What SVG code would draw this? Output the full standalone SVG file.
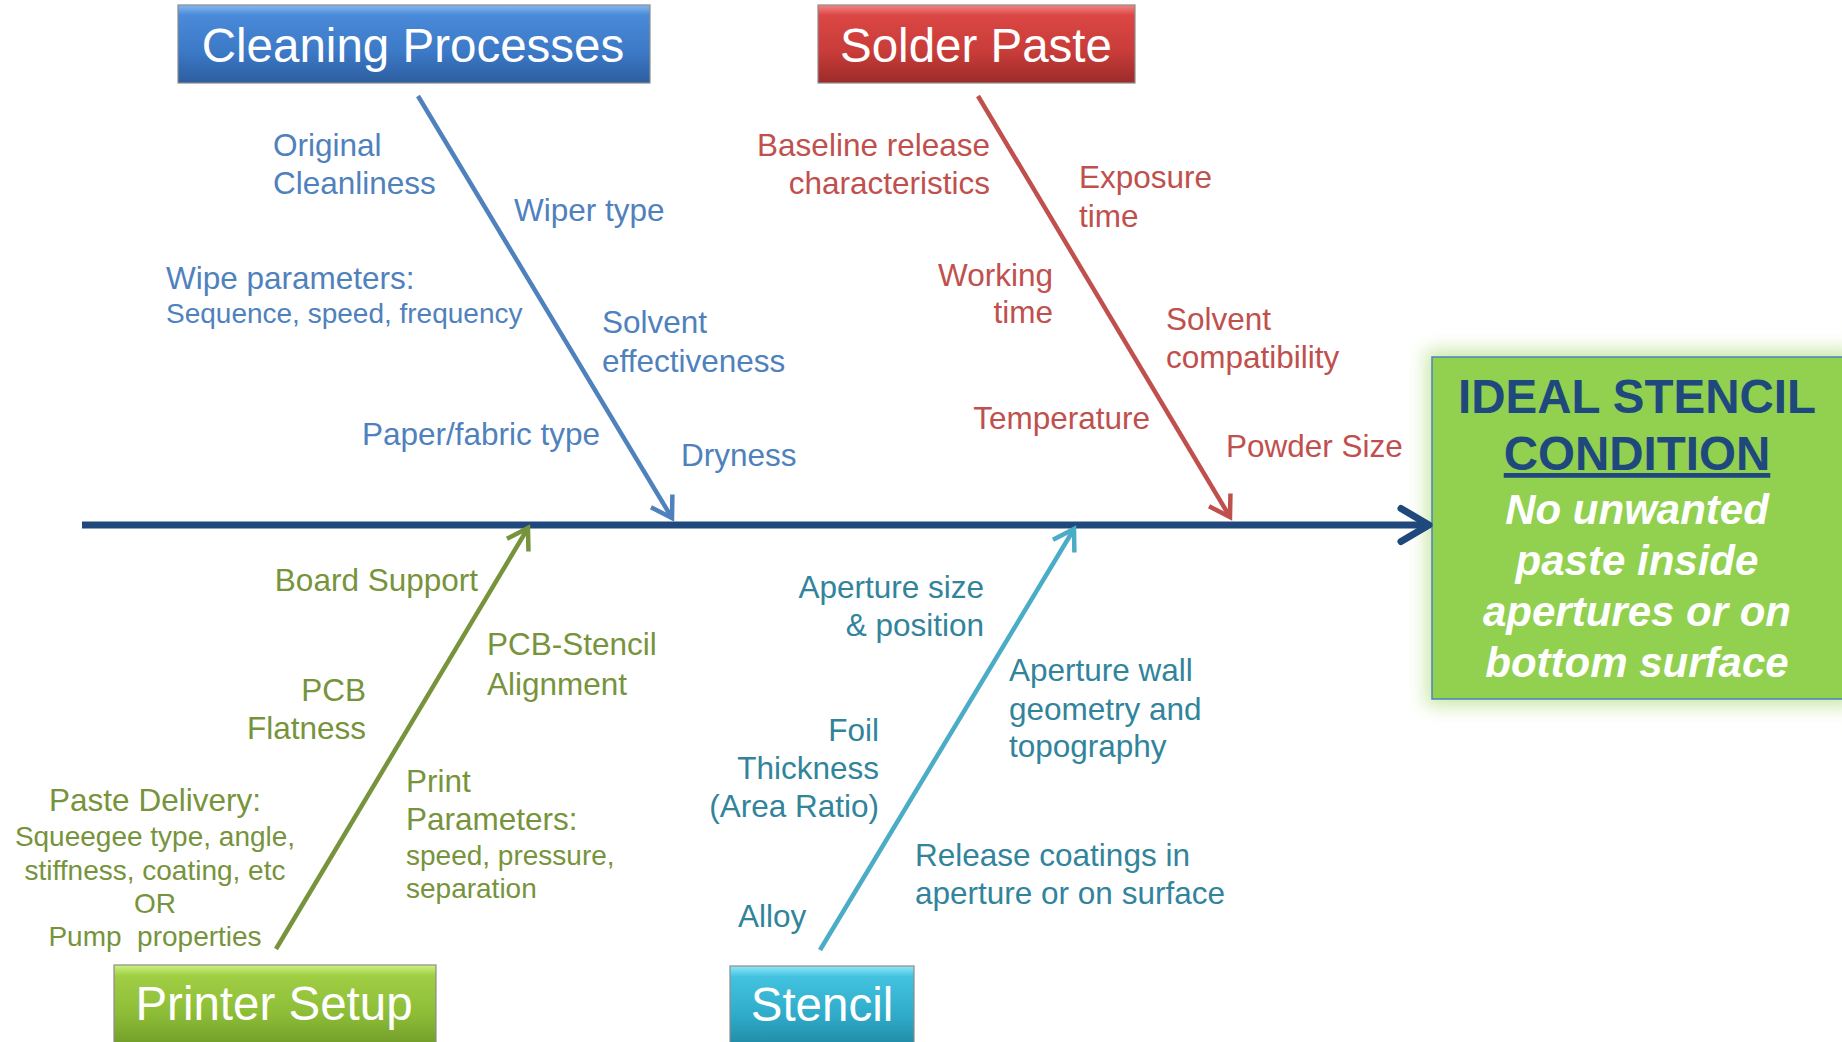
<svg xmlns="http://www.w3.org/2000/svg" width="1842" height="1042" viewBox="0 0 1842 1042">
<style>
text{font-family:"Liberation Sans",Arial,sans-serif}
.lbl{font-size:31.5px}
.sub{font-size:28px}
.r{text-anchor:end}
.m{text-anchor:middle}
.blue{fill:#4F81BD}
.red{fill:#C0504D}
.green{fill:#77933C}
.teal{fill:#31849B}
.title{font-size:47.5px;fill:#FFFFFF;text-anchor:middle}
.box{stroke:#8C8C8C;stroke-width:1.2}
.branch{fill:none;stroke-width:4.5}
.head{font-size:47.5px;font-weight:bold;fill:#1F497D;text-anchor:middle}
.eff{font-size:42px;font-weight:bold;font-style:italic;fill:#FFFFFF;text-anchor:middle}
</style>
<defs>
<linearGradient id="gBlue" x1="0" y1="0" x2="0" y2="1">
<stop offset="0" stop-color="#86B8F2"/><stop offset="0.13" stop-color="#4A8AD8"/><stop offset="0.6" stop-color="#3C79C7"/><stop offset="1" stop-color="#2D5D9F"/>
</linearGradient>
<linearGradient id="gRed" x1="0" y1="0" x2="0" y2="1">
<stop offset="0" stop-color="#F38684"/><stop offset="0.13" stop-color="#DB4744"/><stop offset="0.6" stop-color="#C83C39"/><stop offset="1" stop-color="#9C2B29"/>
</linearGradient>
<linearGradient id="gGreen" x1="0" y1="0" x2="0" y2="1">
<stop offset="0" stop-color="#CDF27F"/><stop offset="0.13" stop-color="#A0CF45"/><stop offset="0.6" stop-color="#8DBC37"/><stop offset="1" stop-color="#709C29"/>
</linearGradient>
<linearGradient id="gCyan" x1="0" y1="0" x2="0" y2="1">
<stop offset="0" stop-color="#8FE7F8"/><stop offset="0.13" stop-color="#43C3E0"/><stop offset="0.6" stop-color="#2FABC9"/><stop offset="1" stop-color="#2088A3"/>
</linearGradient>
<filter id="glow" x="-20%" y="-20%" width="140%" height="140%">
<feGaussianBlur stdDeviation="9"/>
</filter>
<marker id="mBlue" markerUnits="userSpaceOnUse" orient="auto" markerWidth="60" markerHeight="60" viewBox="-30 -30 60 60" refX="0" refY="0" overflow="visible">
<path d="M-20,-12.5 L0,0 L-20,12.5" fill="none" stroke="#4F81BD" stroke-width="4.5"/>
</marker>
<marker id="mRed" markerUnits="userSpaceOnUse" orient="auto" markerWidth="60" markerHeight="60" viewBox="-30 -30 60 60" refX="0" refY="0" overflow="visible">
<path d="M-20,-12.5 L0,0 L-20,12.5" fill="none" stroke="#C0504D" stroke-width="4.5"/>
</marker>
<marker id="mGreen" markerUnits="userSpaceOnUse" orient="auto" markerWidth="60" markerHeight="60" viewBox="-30 -30 60 60" refX="0" refY="0" overflow="visible">
<path d="M-20,-12.5 L0,0 L-20,12.5" fill="none" stroke="#77933C" stroke-width="4.5"/>
</marker>
<marker id="mCyan" markerUnits="userSpaceOnUse" orient="auto" markerWidth="60" markerHeight="60" viewBox="-30 -30 60 60" refX="0" refY="0" overflow="visible">
<path d="M-20,-12.5 L0,0 L-20,12.5" fill="none" stroke="#4BACC6" stroke-width="4.5"/>
</marker>
<marker id="mSpine" markerUnits="userSpaceOnUse" orient="auto" markerWidth="80" markerHeight="80" viewBox="-40 -40 80 80" refX="0" refY="0" overflow="visible">
<path d="M-28,-16.5 L0,0 L-28,16.5" fill="none" stroke="#1F497D" stroke-width="7" stroke-linecap="round" stroke-linejoin="round"/>
</marker>
</defs>
<rect width="1842" height="1042" fill="#FFFFFF"/>

<g id="effect">
<rect x="1426" y="350" width="430" height="356" fill="#C9E8A6" filter="url(#glow)"/>
<rect x="1432" y="357" width="416" height="342" fill="#92D050" stroke="#4F81BD" stroke-width="1.5"/>
<text class="head" x="1637" y="413">IDEAL STENCIL</text>
<text class="head" x="1637" y="470" text-decoration="underline">CONDITION</text>
<text class="eff" x="1637" y="524">No unwanted</text>
<text class="eff" x="1637" y="575">paste inside</text>
<text class="eff" x="1637" y="626">apertures or on</text>
<text class="eff" x="1637" y="677">bottom surface</text>
</g>

<g id="connectors">
<line id="spine" x1="82" y1="525" x2="1429" y2="525" stroke="#1F497D" stroke-width="7" marker-end="url(#mSpine)"/>
<line id="br-cleaning" class="branch" x1="418" y1="96" x2="672" y2="518" stroke="#4F81BD" marker-end="url(#mBlue)"/>
<line id="br-solder" class="branch" x1="978" y1="96" x2="1230" y2="517" stroke="#C0504D" marker-end="url(#mRed)"/>
<line id="br-printer" class="branch" x1="276" y1="949" x2="528" y2="528" stroke="#77933C" marker-end="url(#mGreen)"/>
<line id="br-stencil" class="branch" x1="820" y1="950" x2="1074" y2="529" stroke="#4BACC6" marker-end="url(#mCyan)"/>
</g>

<g id="cleaning">
<rect class="box" x="178" y="5" width="472" height="78" fill="url(#gBlue)"/>
<text class="title" x="413" y="62">Cleaning Processes</text>
</g>
<g id="solder">
<rect class="box" x="818" y="5" width="317" height="78" fill="url(#gRed)"/>
<text class="title" x="976" y="62">Solder Paste</text>
</g>
<g id="printer">
<rect class="box" x="114" y="965" width="322" height="82" fill="url(#gGreen)"/>
<text class="title" x="274" y="1020">Printer Setup</text>
</g>
<g id="stencil">
<rect class="box" x="730" y="966" width="184" height="82" fill="url(#gCyan)"/>
<text class="title" x="822" y="1021">Stencil</text>
</g>

<g id="causes-cleaning" class="blue">
<text class="lbl" x="273" y="156">Original</text>
<text class="lbl" x="273" y="194">Cleanliness</text>
<text class="lbl" x="514" y="221">Wiper type</text>
<text class="lbl" x="166" y="289">Wipe parameters:</text>
<text class="sub" x="166" y="323">Sequence, speed, frequency</text>
<text class="lbl" x="602" y="333">Solvent</text>
<text class="lbl" x="602" y="372">effectiveness</text>
<text class="lbl" x="362" y="445">Paper/fabric type</text>
<text class="lbl" x="681" y="466">Dryness</text>
</g>

<g id="causes-solder" class="red">
<text class="lbl r" x="990" y="156">Baseline release</text>
<text class="lbl r" x="990" y="194">characteristics</text>
<text class="lbl" x="1079" y="188">Exposure</text>
<text class="lbl" x="1079" y="227">time</text>
<text class="lbl r" x="1053" y="286">Working</text>
<text class="lbl r" x="1053" y="323">time</text>
<text class="lbl" x="1166" y="330">Solvent</text>
<text class="lbl" x="1166" y="368">compatibility</text>
<text class="lbl r" x="1150" y="429">Temperature</text>
<text class="lbl" x="1226" y="457">Powder Size</text>
</g>

<g id="causes-printer" class="green">
<text class="lbl r" x="478" y="591">Board Support</text>
<text class="lbl" x="487" y="655">PCB-Stencil</text>
<text class="lbl" x="487" y="695">Alignment</text>
<text class="lbl r" x="366" y="701">PCB</text>
<text class="lbl r" x="366" y="739">Flatness</text>
<text class="lbl m" x="155" y="811">Paste Delivery:</text>
<text class="sub m" x="155" y="846">Squeegee type, angle,</text>
<text class="sub m" x="155" y="880">stiffness, coating, etc</text>
<text class="sub m" x="155" y="913">OR</text>
<text class="sub m" x="155" y="946" style="white-space:pre">Pump  properties</text>
<text class="lbl" x="406" y="792">Print</text>
<text class="lbl" x="406" y="830">Parameters:</text>
<text class="sub" x="406" y="865">speed, pressure,</text>
<text class="sub" x="406" y="898">separation</text>
</g>

<g id="causes-stencil" class="teal">
<text class="lbl r" x="984" y="598">Aperture size</text>
<text class="lbl r" x="984" y="636">&amp; position</text>
<text class="lbl" x="1009" y="681">Aperture wall</text>
<text class="lbl" x="1009" y="720">geometry and</text>
<text class="lbl" x="1009" y="757">topography</text>
<text class="lbl r" x="879" y="741">Foil</text>
<text class="lbl r" x="879" y="779">Thickness</text>
<text class="lbl r" x="879" y="817">(Area Ratio)</text>
<text class="lbl" x="915" y="866">Release coatings in</text>
<text class="lbl" x="915" y="904">aperture or on surface</text>
<text class="lbl" x="738" y="927">Alloy</text>
</g>
</svg>
